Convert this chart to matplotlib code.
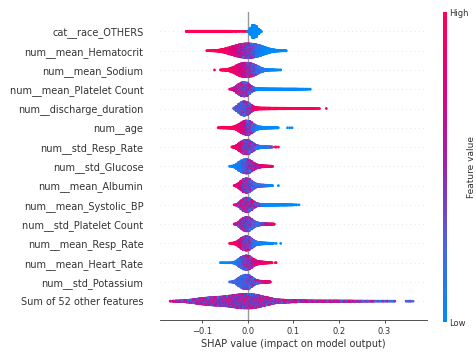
import numpy as np
import matplotlib
matplotlib.use("Agg")
import matplotlib.pyplot as plt
from matplotlib.colors import LinearSegmentedColormap

# features, top to bottom
features = [
    "cat__race_OTHERS", "num__mean_Hematocrit", "num__mean_Sodium",
    "num__mean_Platelet Count", "num__discharge_duration", "num__age",
    "num__std_Resp_Rate", "num__std_Glucose", "num__mean_Albumin",
    "num__mean_Systolic_BP", "num__std_Platelet Count", "num__mean_Resp_Rate",
    "num__mean_Heart_Rate", "num__std_Potassium", "Sum of 52 other features",
]

# SHAP values:
# *_counts = swarm height per 0.005 bin, *_high = share of high feature values per 0.01 bin
bin_width = 0.005
bin_starts = [-0.14, -0.09, -0.08, -0.04, -0.03, -0.07, -0.04, -0.04,
              -0.03, -0.03, -0.03, -0.04, -0.06, -0.04, -0.17]

race_counts = [0] + [1.5] * 19 + [1.2, 0.4, 0.6, 0.3, 0.5, 0.3, 0.4, 0.3,
                                  3, 25, 55, 45, 20, 5]
race_high = [1] * 14 + [0, 0, 0]

hematocrit_counts = [0.6, 1, 1.5, 2, 3, 5, 8, 12, 17, 23, 29, 35, 41, 47, 52, 56, 59, 60,
                     60, 59, 57, 53, 48, 42, 35, 28, 21, 15, 10, 7, 4, 3, 2, 1.5, 1]
hematocrit_high = [1, 1, 1, .95, .9, .85, .75, .65, .55, .4, .3, .15, .05, 0, 0, 0, 0, 0]

sodium_counts = [0, 0.2, 0, 0, 1, 1.5, 3, 6, 11, 18, 27, 38, 48, 55, 60, 60,
                 58, 54, 47, 38, 28, 18, 11, 6, 3.5, 2, 1.5, 1, 0.6, 0.4, 0.4]
sodium_high = [1, 1, 1, 1, .95, .85, .75, .65, .5, .35, .2, .1, .05, 0, 0, 0]

platelet_counts = [0.5, 4, 14, 30, 45, 56, 60, 55, 40, 24, 12, 6, 4.5, 4, 3.5, 3.5, 3, 3,
                   2.5, 2.5, 2.5, 2, 2, 2, 1.8, 1.8, 1.5, 1.5, 1.5, 1.2, 1, 0.8, 0.8, 0.6,
                   0.4, 0.3]
platelet_high = [.8, .65, .5, .45, .45, .3] + [0] * 12

discharge_counts = [5, 20, 38, 52, 60, 55, 42, 26, 14, 8, 5.5, 4.5, 4, 4, 3.5, 3.5, 3, 3,
                    3, 2.5, 2.5, 2.5, 2.5, 2, 2, 2, 2, 1.8, 1.8, 1.5, 1.5, 1.2, 1.2, 1,
                    0.8, 0.6, 0.4, 0.3, 0, 0, 0.2]
discharge_high = [.3, .25, .3, .45, .8] + [1] * 16

age_counts = [0, 0.8, 1.5, 2, 2.5, 3, 4, 6, 10, 18, 30, 43, 54, 60, 58, 46, 30, 18,
              11, 7, 5, 4, 3.5, 3, 2.5, 2, 1.2, 0.5, 0, 0, 0, 0.2, 0.2, 0.2]
age_high = [1, 1, 1, 1, .95, .85, .7, .45, .2, .05, 0, 0, 0, 0, 0, 0, 0]

std_resp_counts = [0, 1, 5, 15, 30, 45, 56, 60, 55, 42, 28, 16, 10, 7, 5, 4, 3, 2, 1,
                   0, 0.4, 0.2]
std_resp_high = [1, .9, .7, .5, .4, .3, .15, .1, .1, .5, 1]

glucose_counts = [0.3, 2, 8, 20, 35, 48, 57, 60, 55, 42, 28, 17, 10, 7, 5, 4, 3, 2, 1]
glucose_high = [0, .05, .1, .25, .4, .55, .7, .8, .85, .9]

albumin_counts = [1, 8, 22, 40, 54, 60, 55, 40, 25, 14, 9, 6, 5, 4, 3, 2, 1, 0, 0, 0.2]
albumin_high = [.9, .7, .5, .4, .25, .2, .15, .1, 0, 0]

systolic_counts = [0.5, 5, 18, 36, 52, 60, 56, 42, 26, 14, 8, 5.5, 4.5, 4, 4, 3.5, 3, 3,
                   2.5, 2.5, 2, 2, 1.8, 1.5, 1.2, 0.8, 0.5, 0.3, 0.2]
systolic_high = [.6, .55, .5, .5, .55, .3, .05] + [0] * 8

std_platelet_counts = [1, 6, 20, 38, 53, 60, 55, 42, 27, 16, 10, 7, 5, 4, 3, 2, 1.5, 0.8]
std_platelet_high = [.7, .6, .5, .4, .2, .15, .35, .65, .85]

mean_resp_counts = [0.5, 2.5, 6, 14, 28, 44, 56, 60, 54, 40, 25, 14, 9, 6, 5, 4, 3, 2, 1,
                    0.2, 0.2, 0, 0.2]
mean_resp_high = [1, .9, .75, .5, .4, .2, .1, .05, 0, 0, 0, 0]

heart_counts = [0.4, 0.3, 0.3, 0.3, 0.5, 2, 6, 16, 32, 46, 56, 60, 55, 42, 28, 17, 11, 8,
                6, 4.5, 3, 2, 0.8, 0, 0.3]
heart_high = [0, 0, .1, .1, .2, .35, .5, .65, .8, .85, .9, 1, 1]

potassium_counts = [0.3, 2, 8, 20, 35, 48, 57, 60, 55, 42, 27, 16, 10, 7, 5, 4, 3, 1.5]
potassium_high = [.15, .2, .2, .25, .3, .35, .55, .65, .75]

other_counts = ([0.5, 1, 1.5, 2, 3, 4, 5, 7, 9, 11, 14, 17, 20, 23, 25, 27, 29, 31, 33, 34,
                 35, 36, 37, 39, 41, 43, 46, 49, 52, 55, 57, 59, 60, 60, 60, 59, 57, 54,
                 50, 45, 40, 36, 32, 27, 22, 17, 13, 12, 11, 10, 9, 8, 7, 6.5, 6, 5.5, 5,
                 4.5, 4, 3.5, 3, 3, 2.5, 2.5]
                + [2] * 10 + [1.5] * 6 + [1] * 4
                + [0.8, 0.6, 0.8, 0.6, 0.6, 0.5, 0.5, 0.5, 0.5, 0.4, 0.5, 0.4, 0.4, 0.4, 0.4,
                   0, 0, 0, 0, 0.2, 0.4, 0.4, 0.2])
other_high = [.5] * 27 + [.6] * 10 + [.5] * 8 + [.3] * 9

all_counts = [race_counts, hematocrit_counts, sodium_counts, platelet_counts,
              discharge_counts, age_counts, std_resp_counts, glucose_counts,
              albumin_counts, systolic_counts, std_platelet_counts, mean_resp_counts,
              heart_counts, potassium_counts, other_counts]
all_high = [race_high, hematocrit_high, sodium_high, platelet_high,
            discharge_high, age_high, std_resp_high, glucose_high,
            albumin_high, systolic_high, std_platelet_high, mean_resp_high,
            heart_high, potassium_high, other_high]

# shap's red_blue colour map
cmap = LinearSegmentedColormap.from_list(
    "red_blue", ["#008bfb", "#4b63e3", "#9d22ac", "#e00086", "#ff0052"])

dots_per_unit = 5


def swarm(start, counts, high):
    xs, ys, cs = [], [], []
    for i, n in enumerate(counts):
        h = high[min(i // 2, len(high) - 1)]
        left = start + i * bin_width
        spread = 2 * min(h, 1 - h)
        for k in range(int(round(n * dots_per_unit))):
            xs.append(left + ((k * 0.618034 + 0.5) % 1) * bin_width)
            ys.append(((k + 1) // 2) * (1 if k % 2 else -1))
            u = (k * 0.7548777 + i * 0.5698403) % 1
            cs.append(min(max(h + (u - 0.5) * spread, 0), 1))
    return np.array(xs), np.array(ys, dtype=float), np.array(cs)


fig = plt.figure(figsize=(4.76, 3.52), dpi=100)
ax = fig.add_axes([0.336, 0.0895, 0.561, 0.876])

n = len(features)
y_scale = 0.35 / (30 * dots_per_unit)
for i, name in enumerate(features):
    row = n - 1 - i
    ax.axhline(row, color="#cccccc", lw=0.5, dashes=(1, 5), zorder=-1)
    xs, ys, cs = swarm(bin_starts[i], all_counts[i], all_high[i])
    ax.scatter(xs, row + ys * y_scale, c=cs, cmap=cmap, vmin=0, vmax=1,
               s=4, linewidth=0, rasterized=True, zorder=3)

ax.axvline(0, color="#999999", lw=1, zorder=-1)
ax.set_xlim(-0.192, 0.393)
ax.set_ylim(-1, n)
ax.set_yticks(range(n))
ax.set_yticklabels(features[::-1], fontsize=7, color="#333333")
ax.tick_params("y", length=0, pad=12)
ax.set_xticks([-0.1, 0.0, 0.1, 0.2, 0.3])
ax.tick_params("x", labelsize=6, color="#333333", labelcolor="#333333",
               length=2.5, width=0.6, pad=2)
ax.set_xlabel("SHAP value (impact on model output)", fontsize=7, color="#333333",
              labelpad=2)
for side in ["top", "right", "left"]:
    ax.spines[side].set_visible(False)
ax.spines["bottom"].set_color("#333333")
ax.spines["bottom"].set_linewidth(0.6)

# colour bar
cax = fig.add_axes([0.9307, 0.0852, 0.0074, 0.8807])
sm = plt.cm.ScalarMappable(cmap=cmap, norm=plt.Normalize(0, 1))
cb = fig.colorbar(sm, cax=cax, ticks=[0, 1])
cb.set_ticklabels(["Low", "High"])
cb.ax.tick_params(labelsize=6, length=0, pad=2, labelcolor="#333333")
cb.set_label("Feature value", size=6.5, color="#333333")
cb.ax.yaxis.set_label_coords(6.9, 0.5)
cb.outline.set_visible(False)

fig.savefig("out.png", dpi=100)
